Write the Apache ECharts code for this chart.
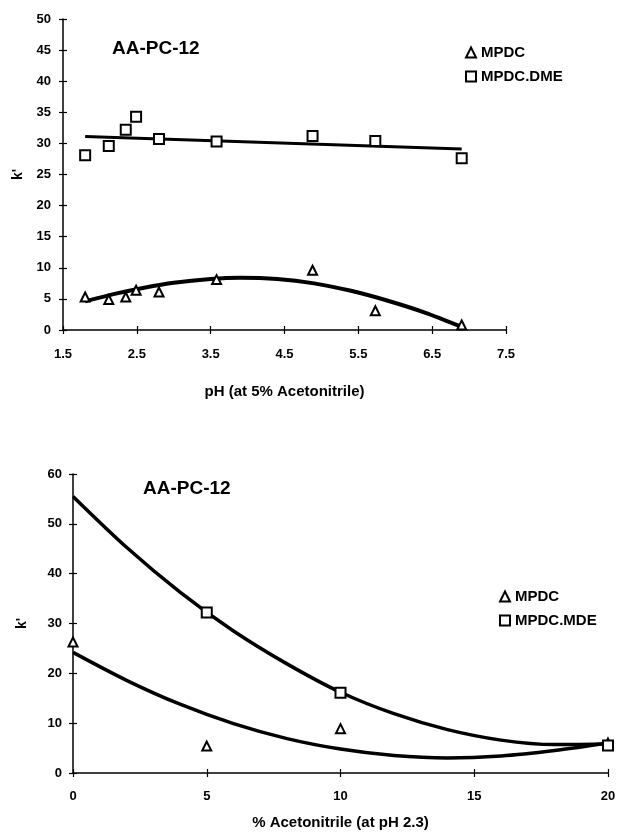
<!DOCTYPE html>
<html>
<head>
<meta charset="utf-8">
<script src="https://cdn.jsdelivr.net/npm/echarts@6/dist/echarts.min.js"></script>
<style>
  html, body { margin: 0; padding: 0; background: #fff; }
  #chart { width: 619px; height: 834px; }
</style>
</head>
<body>
<div id="chart"></div>
<script>
// top chart: k' vs pH (at 5% acetonitrile)
const phValues = [1.8, 2.12, 2.35, 2.49, 2.8, 3.58, 4.88, 5.73, 6.9];
const phMpdc = [5.3, 4.9, 5.3, 6.4, 6.1, 8.1, 9.6, 3.1, 0.8];
const phMpdcDme = [28.1, 29.6, 32.2, 34.3, 30.7, 30.3, 31.2, 30.4, 27.6];
const phMpdcFitX = [1.8, 2.2, 2.6, 3.0, 3.5, 3.9, 4.4, 4.9, 5.4, 5.9, 6.4, 6.9];
const phMpdcFitY = [4.6, 5.8, 6.8, 7.6, 8.2, 8.4, 8.2, 7.5, 6.3, 4.7, 2.8, 0.5];
const phDmeFitX = [1.8, 6.9];
const phDmeFitY = [31.1, 29.1];

// bottom chart: k' vs % acetonitrile (at pH 2.3)
const acnMpdcX = [0, 5, 10, 20];
const acnMpdc = [26.3, 5.4, 8.9, 6.0];
const acnMdeX = [5, 10, 20];
const acnMde = [32.2, 16.1, 5.5];
const acnFitX = [0, 2, 4, 6, 8, 10, 12, 14, 16, 18, 20];
const acnMdeFit = [55.5, 45.3, 36.3, 28.5, 21.9, 16.2, 11.9, 8.7, 6.6, 5.7, 5.8];
const acnMpdcFit = [24.2, 18.6, 13.8, 9.9, 6.9, 4.8, 3.5, 3.0, 3.4, 4.5, 6.0];

const FONT = '"Liberation Sans", Arial, sans-serif';

function pairs(xs, ys) {
  return xs.map((x, i) => [x, ys[i]]);
}

function valueAxis(gridIndex, min, max, interval, extra) {
  return Object.assign({
    type: 'value',
    gridIndex: gridIndex,
    min: min,
    max: max,
    interval: interval,
    splitLine: { show: false },
    axisLine: { show: true, onZero: false, lineStyle: { color: '#000', width: 1.5 } },
    axisTick: { show: true, length: 4, lineStyle: { color: '#000', width: 1.2 } },
    axisLabel: { color: '#000', fontFamily: FONT, fontWeight: 'bold', fontSize: 13 }
  }, extra);
}

// second copy of each axis only draws the inner half of the crossing ticks
function innerTicks(gridIndex, min, max, interval, position) {
  return {
    type: 'value',
    gridIndex: gridIndex,
    min: min,
    max: max,
    interval: interval,
    position: position,
    splitLine: { show: false },
    axisLine: { show: false },
    axisLabel: { show: false },
    axisTick: { show: true, inside: true, length: 4, lineStyle: { color: '#000', width: 1.2 } }
  };
}

const triangle = {
  type: 'scatter',
  symbol: 'triangle',
  symbolSize: 9,
  itemStyle: { color: '#fff', borderColor: '#000', borderWidth: 2, opacity: 1 },
  z: 5
};

const square = {
  type: 'scatter',
  symbol: 'rect',
  symbolSize: 10,
  itemStyle: { color: '#fff', borderColor: '#000', borderWidth: 2, opacity: 1 },
  z: 5
};

function fitLine(xIdx, yIdx, data, width) {
  return {
    type: 'line',
    xAxisIndex: xIdx,
    yAxisIndex: yIdx,
    data: data,
    smooth: 0.3,
    showSymbol: false,
    silent: true,
    lineStyle: { color: '#000', width: width },
    z: 3
  };
}

const legendText = { color: '#000', fontFamily: FONT, fontWeight: 'bold', fontSize: 15, lineHeight: 15 };

const chart = echarts.init(document.getElementById('chart'), null, { renderer: 'canvas' });

chart.setOption({
  backgroundColor: '#fff',
  animation: false,
  grid: [
    { left: 63, right: 113, top: 19, height: 311 },
    { left: 73, right: 11, top: 474, height: 299 }
  ],
  title: [
    { text: 'AA-PC-12', left: 107, top: 34, textStyle: { color: '#000', fontFamily: FONT, fontWeight: 'bold', fontSize: 19 } },
    { text: 'AA-PC-12', left: 138, top: 474, textStyle: { color: '#000', fontFamily: FONT, fontWeight: 'bold', fontSize: 19 } }
  ],
  legend: [
    {
      data: ['MPDC', 'MPDC.DME'],
      orient: 'vertical',
      left: 460,
      top: 40,
      itemWidth: 10,
      itemHeight: 10,
      itemGap: 9,
      selectedMode: false,
      textStyle: legendText
    },
    {
      data: ['MPDC ', 'MPDC.MDE'],
      orient: 'vertical',
      left: 494,
      top: 584,
      itemWidth: 10,
      itemHeight: 10,
      itemGap: 9,
      selectedMode: false,
      textStyle: legendText
    }
  ],
  xAxis: [
    valueAxis(0, 1.5, 7.5, 1, {
      name: 'pH (at 5% Acetonitrile)',
      nameLocation: 'middle',
      nameGap: 54,
      nameTextStyle: { color: '#000', fontFamily: FONT, fontWeight: 'bold', fontSize: 15 },
      axisLabel: { color: '#000', fontFamily: FONT, fontWeight: 'bold', fontSize: 13, margin: 18 }
    }),
    innerTicks(0, 1.5, 7.5, 1, 'bottom'),
    valueAxis(1, 0, 20, 5, {
      name: '% Acetonitrile (at pH 2.3)',
      nameLocation: 'middle',
      nameGap: 42,
      nameTextStyle: { color: '#000', fontFamily: FONT, fontWeight: 'bold', fontSize: 15 },
      axisLabel: { color: '#000', fontFamily: FONT, fontWeight: 'bold', fontSize: 13, margin: 17 }
    }),
    innerTicks(1, 0, 20, 5, 'bottom')
  ],
  yAxis: [
    valueAxis(0, 0, 50, 5, {
      name: "k'",
      nameLocation: 'middle',
      nameRotate: 90,
      nameGap: 38,
      nameTextStyle: { color: '#000', fontFamily: FONT, fontWeight: 'bold', fontSize: 14 },
      axisLabel: { color: '#000', fontFamily: FONT, fontWeight: 'bold', fontSize: 13, margin: 12 }
    }),
    innerTicks(0, 0, 50, 5, 'left'),
    valueAxis(1, 0, 60, 10, {
      name: "k'",
      nameLocation: 'middle',
      nameRotate: 90,
      nameGap: 44,
      nameTextStyle: { color: '#000', fontFamily: FONT, fontWeight: 'bold', fontSize: 14 },
      axisLabel: { color: '#000', fontFamily: FONT, fontWeight: 'bold', fontSize: 13, margin: 11 }
    }),
    innerTicks(1, 0, 60, 10, 'left')
  ],
  series: [
    fitLine(0, 0, pairs(phDmeFitX, phDmeFitY), 3),
    fitLine(0, 0, pairs(phMpdcFitX, phMpdcFitY), 4),
    Object.assign({}, triangle, { name: 'MPDC', xAxisIndex: 0, yAxisIndex: 0, data: pairs(phValues, phMpdc) }),
    Object.assign({}, square, { name: 'MPDC.DME', xAxisIndex: 0, yAxisIndex: 0, data: pairs(phValues, phMpdcDme) }),

    fitLine(2, 2, pairs(acnFitX, acnMdeFit), 3.5),
    fitLine(2, 2, pairs(acnFitX, acnMpdcFit), 3.5),
    Object.assign({}, triangle, { name: 'MPDC ', xAxisIndex: 2, yAxisIndex: 2, data: pairs(acnMpdcX, acnMpdc) }),
    Object.assign({}, square, { name: 'MPDC.MDE', xAxisIndex: 2, yAxisIndex: 2, data: pairs(acnMdeX, acnMde) })
  ]
});
</script>
</body>
</html>
